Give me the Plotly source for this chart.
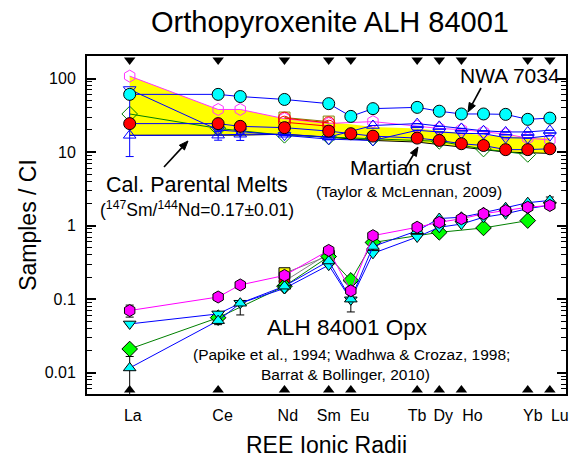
import plotly.graph_objects as go
import math

# ---------------- data ----------------
ree = ["La", "Ce", "Pr", "Nd", "Sm", "Eu", "Gd", "Tb", "Dy", "Ho", "Er", "Tm", "Yb", "Lu"]
ree_pos = [0, 4, 5, 7, 9, 10, 11, 13, 14, 15, 16, 17, 18, 19]   # position on the ionic-radius axis
tick_labels = ["La", "Ce", "Nd", "Sm", "Eu", "Tb", "Dy", "Ho", "Yb", "Lu"]
N = None

# Bulk compositions (CI normalised)
nwa7034 = [61, 61, 57, 52, 45.6, 30.6, 39, 40.6, 36, 33, 33, 32.6, 27.9, 29]
martian_crust = [24.4, 24.4, 22.4, 21.5, 19.3, 17.8, 16.5, 15.5, 14.4, 13, 12.3, 10.8, 10.8, 11.1]

# Calculated parental melts: envelope and individual calculations
band_upper = [108, 38, 38, 28.5, 25.5, 24, 22, 21, 19.5, 18, 17, 16.5, 16, 15.5]
band_lower = [16.9, 16.9, 17, 17.5, 16, 15, 14.4, 13.7, 12.7, 11.7, 10.8, 10, 9.8, 9.6]
melt_magenta = [108, 38, 38, 28.5, 24.5, N, 26, 22.5, 21, 20.2, 18.8, 17.6, 15.5, 14.6]
melt_blue_down = [71, 20, 19, 17, 15, N, 14.4, 19.8, 18.8, 18, 17.8, 15.7, 15.5, 16.7]
melt_blue_up = [16.9, 17, 17.5, 17.5, 16, N, 23, 24.4, 22.4, 21, 19.5, 18.8, 18.8, 19.8]
melt_blue_up_err_plus = [54.1, 2, N, N, N, N, N, N, N, N, N, N, N, N]
melt_blue_up_err_minus = [8.2, 2.5, N, N, N, N, N, N, N, N, N, N, N, N]
melt_blue_down_err_minus = [N, N, 4.6, N, N, N, N, N, N, N, N, N, N, N]
melt_green = [33, 21, N, 16.9, 16, N, 15.5, N, 14, N, 11, N, 9.3, N]
melt_red_a = [N, N, N, 29, 25, N, N, N, N, N, N, N, N, N]
melt_red_b = [N, N, N, 25.5, 22.5, N, N, N, N, N, N, N, N, N]
melt_yellow = [N, N, N, 29.5, 26, N, N, N, N, N, N, N, N, N]

# ALH 84001 orthopyroxene analyses
opx_magenta = [0.07, 0.107, 0.156, 0.21, 0.46, 0.13, 0.73, 0.95, 1.11, 1.24, 1.45, 1.6, 1.78, 1.88]
opx_magenta_err = [0.013, N, N, N, N, N, N, N, N, N, N, N, N, N]
opx_cyan_down = [0.046, 0.063, 0.088, 0.14, 0.29, 0.098, 0.42, 0.70, 0.95, 1.05, 1.3, 1.45, 1.7, 1.9]
opx_cyan_down_err_minus = [N, N, 0.027, N, N, 0.031, N, N, N, N, N, N, N, N]
opx_cyan_up = [0.0116, 0.051, 0.088, 0.15, 0.33, 0.10, 0.52, 0.85, 1.25, 1.3, 1.5, 1.75, 2.05, 2.2]
opx_cyan_up_err_plus = [0.005, N, N, N, N, N, N, N, N, N, N, N, N, 0.25]
opx_cyan_up_err_minus = [0.0086, 0.006, N, N, N, N, N, N, N, N, N, N, N, N]
opx_green = [0.021, 0.056, N, 0.15, 0.38, 0.18, 0.59, N, 0.81, N, 0.93, N, 1.17, N]
opx_yellow = [N, N, N, 0.225, 0.39, N, N, N, N, N, N, N, N, N]
opx_red = [N, N, N, 0.175, 0.42, N, N, N, N, N, N, N, N, N]

# ---------------- layout geometry ----------------
W, H = 571, 462
ML, MR, MT, MB = 87, 5, 56, 68
X_RANGE = [-1.93, 19.73]
Y_RANGE = [-2.29, 2.307]
FONT = "Arial, Liberation Sans, sans-serif"

tick_pos = [ree_pos[ree.index(t)] for t in tick_labels]
# the labels in the original sit slightly right of their tick marks
label_shift = [0.14, 0.2, 0.15, 0.0, 0.4, 0.0, 0.18, 0.5, 0.23, 0.45]
label_pos = [p + s for p, s in zip(tick_pos, label_shift)]

fig = go.Figure()


def line_trace(y, color, symbol, fill, size=12, lw=1, edge=None, **kw):
    marker = dict(symbol=symbol, size=size, color=fill,
                  line=dict(color=edge if edge else "black", width=1))
    fig.add_trace(go.Scatter(x=ree_pos, y=y, mode="lines+markers", connectgaps=True,
                             line=dict(color=color, width=lw), marker=marker,
                             showlegend=False, hoverinfo="skip", **kw))


# yellow band of calculated parental melts
fig.add_trace(go.Scatter(x=ree_pos, y=band_upper, mode="lines", line=dict(width=0, color="yellow"),
                         showlegend=False, hoverinfo="skip"))
fig.add_trace(go.Scatter(x=ree_pos, y=band_lower, mode="lines", fill="tonexty",
                         fillcolor="#ffff00", line=dict(width=1, color="black"),
                         showlegend=False, hoverinfo="skip"))

# calculated parental melts (open symbols)
line_trace(melt_green, "#008000", "diamond-open", "#008000", size=12, edge="#008000")
line_trace(melt_magenta, "#ff33ff", "hexagon-open", "#ff33ff", size=12, edge="#ff33ff")
line_trace(melt_blue_down, "#0000ff", "triangle-down-open", "#0000ff", size=11, edge="#0000ff",
           error_y=dict(type="data", symmetric=False, array=[0] * 14,
                        arrayminus=melt_blue_down_err_minus, color="#0000ff", thickness=1, width=4))
line_trace(melt_blue_up, "#0000ff", "triangle-up-open", "#0000ff", size=11, edge="#0000ff",
           error_y=dict(type="data", symmetric=False, array=melt_blue_up_err_plus,
                        arrayminus=melt_blue_up_err_minus, color="#0000ff", thickness=1, width=4))
line_trace(melt_yellow, "#808000", "square-open", "#808000", size=11, edge="#808000")
line_trace(melt_red_a, "#ff0000", "circle-open", "#ff0000", size=12, edge="#ff0000")
line_trace(melt_red_b, "#ff0000", "circle-open", "#ff0000", size=12, edge="#ff0000")

# Martian crust and NWA 7034
line_trace(martian_crust, "#0000ff", "circle", "#ff0000", size=12)
line_trace(nwa7034, "#0000ff", "circle", "#00ffff", size=12)

# ALH 84001 opx
line_trace(opx_yellow, "#808080", "square", "#ffff00", size=11)
line_trace(opx_red, "#808080", "circle", "#ff0000", size=11)
line_trace(opx_green, "#008000", "diamond", "#00ff00", size=12)
line_trace(opx_cyan_down, "#0000ff", "triangle-down", "#00ffff", size=11,
           error_y=dict(type="data", symmetric=False, array=[0] * 14,
                        arrayminus=opx_cyan_down_err_minus, color="black", thickness=1, width=4))
line_trace(opx_cyan_up, "#0000ff", "triangle-up", "#00ffff", size=11,
           error_y=dict(type="data", symmetric=False, array=opx_cyan_up_err_plus,
                        arrayminus=opx_cyan_up_err_minus, color="black", thickness=1, width=4))
line_trace(opx_magenta, "#ff00ff", "hexagon", "#ff00ff", size=12,
           error_y=dict(type="data", array=opx_magenta_err, color="black", thickness=1, width=4))

# triangular tick marks on top and bottom frame, placed just inside the axis range
edge_off = 4 / (H - MT - MB) * (Y_RANGE[1] - Y_RANGE[0])
y_top_mark = 10 ** (Y_RANGE[1] - edge_off)
y_bot_mark = 10 ** (Y_RANGE[0] + edge_off)
fig.add_trace(go.Scatter(x=tick_pos, y=[y_top_mark] * len(tick_pos), mode="markers",
                         marker=dict(symbol="triangle-down", size=10, color="black"),
                         cliponaxis=False, showlegend=False, hoverinfo="skip"))
fig.add_trace(go.Scatter(x=tick_pos, y=[y_bot_mark] * len(tick_pos), mode="markers",
                         marker=dict(symbol="triangle-up", size=10, color="black"),
                         cliponaxis=False, showlegend=False, hoverinfo="skip"))


def paper(px, py):
    return (px - ML) / (W - ML - MR), (H - MB - py) / (H - MT - MB)


def text_ann(txt, px, py, size):
    x, y = paper(px, py)
    return dict(text=txt, x=x, y=y, xref="paper", yref="paper", showarrow=False,
                xanchor="center", yanchor="middle", font=dict(size=size, color="black", family=FONT))


shapes = []


def arrow(tip_px, tip_py, tail_px, tail_py, head_len=9, head_w=7):
    dx, dy = tip_px - tail_px, tip_py - tail_py
    L = math.hypot(dx, dy)
    ux, uy = dx / L, dy / L
    bx, by = tip_px - ux * head_len, tip_py - uy * head_len
    x0, y0 = paper(tail_px, tail_py)
    x1, y1 = paper(bx, by)
    shapes.append(dict(type="line", xref="paper", yref="paper", x0=x0, y0=y0, x1=x1, y1=y1,
                       line=dict(color="black", width=1.6)))
    px_, py_ = -uy, ux
    pts = [(tip_px, tip_py),
           (bx + px_ * head_w / 2, by + py_ * head_w / 2),
           (bx - px_ * head_w / 2, by - py_ * head_w / 2)]
    path = "M " + " L ".join("%f,%f" % paper(a, b) for a, b in pts) + " Z"
    shapes.append(dict(type="path", xref="paper", yref="paper", path=path,
                       fillcolor="black", line=dict(color="black", width=1)))


arrow(468, 112, 481, 88)
arrow(418, 147, 406, 167)
arrow(188, 141, 164, 167)

annotations = [
    text_ann("NWA 7034", 510, 76, 21),
    text_ann("Martian crust", 411, 167, 21),
    text_ann("(Taylor &amp; McLennan, 2009)", 409, 191, 15.5),
    text_ann("Cal. Parental Melts", 197, 185, 21.5),
    text_ann("(<sup>147</sup>Sm/<sup>144</sup>Nd=0.17±0.01)", 197, 209, 17.5),
    text_ann("ALH 84001 Opx", 347, 327, 22.5),
    text_ann("(Papike et al., 1994; Wadhwa &amp; Crozaz, 1998;", 351, 354, 15.5),
    text_ann("Barrat &amp; Bollinger, 2010)", 345, 374, 15.5),
]

fig.update_layout(
    width=W, height=H,
    margin=dict(l=ML, r=MR, t=MT, b=MB, pad=0, autoexpand=False),
    paper_bgcolor="white", plot_bgcolor="white",
    font=dict(family=FONT, color="black"),
    title=dict(text="Orthopyroxenite ALH 84001", x=330 / W, xanchor="center",
               y=1 - 22 / H, yanchor="middle", font=dict(size=29, family=FONT, color="black")),
    xaxis=dict(range=X_RANGE, tickmode="array", tickvals=label_pos, ticktext=tick_labels,
               tickangle=0, automargin=False,
               ticks="", showgrid=False, zeroline=False, showline=True, linecolor="black",
               linewidth=2, mirror=True, tickfont=dict(size=16), ticklabelstandoff=6,
               title=dict(text="REE Ionic Radii", font=dict(size=23), standoff=14)),
    yaxis=dict(type="log", range=Y_RANGE, tickmode="array", automargin=False,
               tickvals=[0.01, 0.1, 1, 10, 100], ticktext=["0.01", "0.1", "1", "10", "100"],
               ticks="inside", ticklen=9, tickwidth=1.5, tickcolor="black",
               minor=dict(ticks="inside", ticklen=5, tickwidth=1, tickcolor="black",
                          tickvals=[m * 10 ** e for e in range(-3, 3) for m in range(2, 10)]),
               showgrid=False, zeroline=False, showline=True, linecolor="black", linewidth=2,
               mirror="ticks", tickfont=dict(size=16), ticklabelstandoff=6,
               title=dict(text="Samples / CI", font=dict(size=23), standoff=2)),
    shapes=shapes,
    annotations=annotations,
)

fig.write_html("out.html")
